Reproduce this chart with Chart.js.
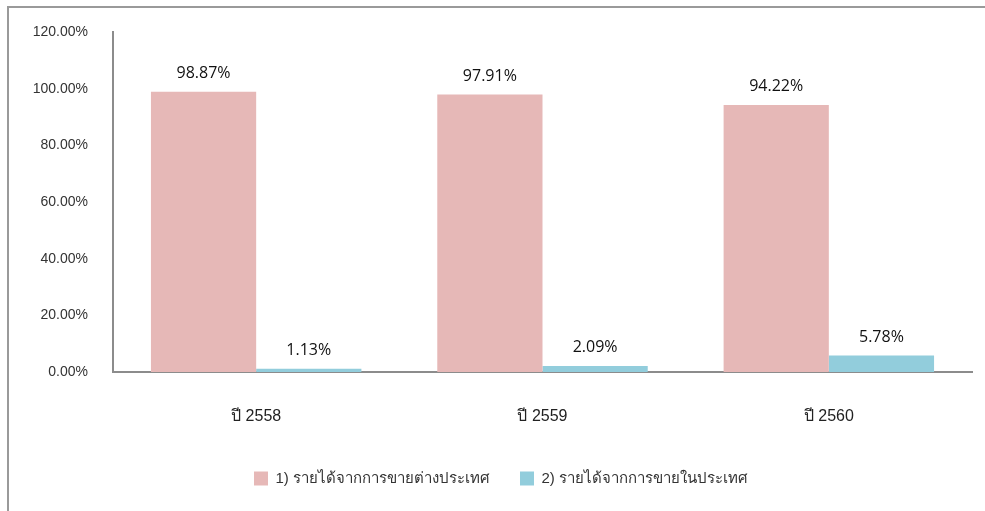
<!DOCTYPE html>
<html lang="th">
<head>
<meta charset="utf-8" />
<title>รายได้จากการขาย</title>
<style>
  html, body { margin: 0; padding: 0; background: #fff; }
  #wrap { position: relative; width: 985px; height: 511px; }
</style>
</head>
<body>
<div id="wrap"><canvas id="salesChart" width="985" height="511"></canvas></div>

<script src="https://cdn.jsdelivr.net/npm/chart.js"></script>
<script>
    const categories = ['ปี 2558', 'ปี 2559', 'ปี 2560'];
    const exportShare = [98.87, 97.91, 94.22];
    const domesticShare = [1.13, 2.09, 5.78];
    const seriesNames = ['1) รายได้จากการขายต่างประเทศ', '2) รายได้จากการขายในประเทศ'];

    const FONT = "'Liberation Sans', 'DejaVu Sans', sans-serif";

    // grey frame on the left and top of the picture
    const framePlugin = {
        id: 'frame',
        beforeDraw(chart) {
            const ctx = chart.ctx;
            ctx.save();
            ctx.strokeStyle = '#9a9a9a';
            ctx.lineWidth = 2;
            ctx.beginPath();
            ctx.moveTo(8, 511);
            ctx.lineTo(8, 7);
            ctx.lineTo(985, 7);
            ctx.stroke();
            ctx.restore();
        }
    };

    // value labels above each bar
    const valueLabels = {
        id: 'valueLabels',
        afterDatasetsDraw(chart) {
            const ctx = chart.ctx;
            ctx.save();
            ctx.font = "500 16px 'Open Sans', 'DejaVu Sans', sans-serif";
            ctx.fillStyle = '#111';
            ctx.textAlign = 'center';
            ctx.textBaseline = 'alphabetic';
            chart.data.datasets.forEach((ds, i) => {
                chart.getDatasetMeta(i).data.forEach((bar, j) => {
                    ctx.fillText(ds.data[j].toFixed(2) + '%', bar.x, bar.y - 14);
                });
            });
            ctx.restore();
        }
    };

    const ctx = document.getElementById('salesChart').getContext('2d');
    new Chart(ctx, {
        type: 'bar',
        data: {
            labels: categories,
            datasets: [{
                label: seriesNames[0],
                data: exportShare,
                backgroundColor: '#e6b8b7'
            }, {
                label: seriesNames[1],
                data: domesticShare,
                backgroundColor: '#92cddc'
            }]
        },
        options: {
            responsive: false,
            animation: false,
            layout: { padding: { top: 32, right: 13, bottom: 15, left: 30 } },
            datasets: {
                bar: { categoryPercentage: 0.735, barPercentage: 1.0 }
            },
            scales: {
                x: {
                    grid: { display: false },
                    border: { display: true, color: '#8c8c8c', width: 2 },
                    ticks: { color: '#222', padding: 27, font: { family: FONT, size: 16 } },
                    afterFit: (scale) => { scale.height = 69; }
                },
                y: {
                    min: 0,
                    max: 120,
                    grid: { display: false },
                    border: { display: true, color: '#8c8c8c', width: 2 },
                    ticks: {
                        stepSize: 20,
                        color: '#333',
                        padding: 17,
                        font: { family: FONT, size: 14 },
                        callback: (v) => v.toFixed(2) + '%'
                    },
                    afterFit: (scale) => { scale.width = 83; }
                }
            },
            plugins: {
                legend: {
                    position: 'bottom',
                    labels: {
                        boxWidth: 14,
                        boxHeight: 14,
                        padding: 30,
                        color: '#333',
                        font: { family: FONT, size: 15 }
                    }
                },
                tooltip: { enabled: false }
            }
        },
        plugins: [framePlugin, valueLabels]
    });
</script>
</body>
</html>
